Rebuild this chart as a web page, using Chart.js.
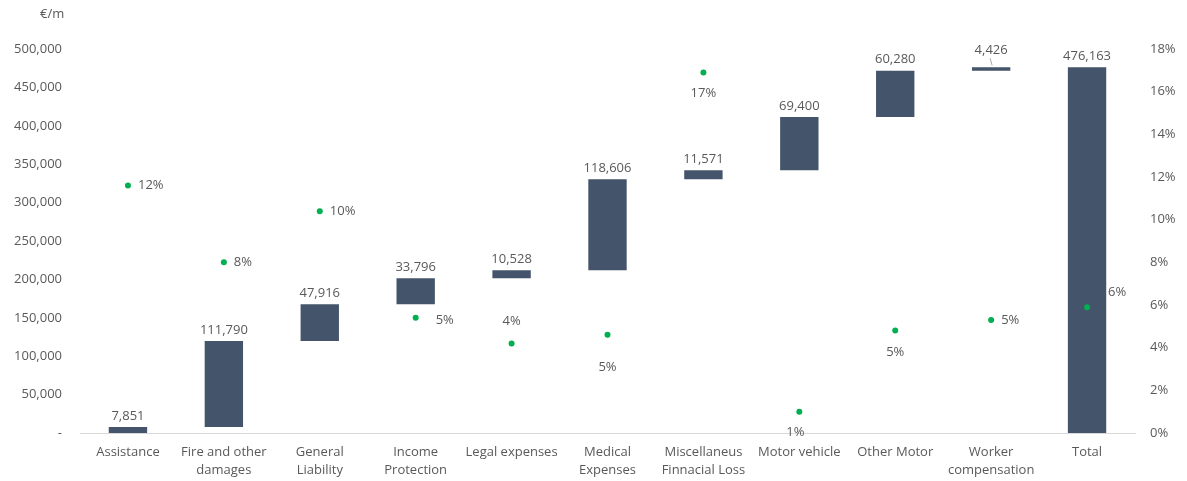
<!DOCTYPE html>
<html>
<head>
<meta charset="utf-8">
<script src="https://cdn.jsdelivr.net/npm/chart.js@4.4.1/dist/chart.umd.min.js"></script>
<style>
  html, body { margin: 0; padding: 0; background: #fff; }
  #wrap { width: 1187px; height: 481px; }
</style>
</head>
<body>
<div id="wrap"><canvas id="chart"></canvas></div>
<script>
const categories = ['Assistance', ['Fire and other', 'damages'], ['General', 'Liability'], ['Income', 'Protection'],
    'Legal expenses', ['Medical', 'Expenses'], ['Miscellaneus', 'Finnacial Loss'], 'Motor vehicle', 'Other Motor',
    ['Worker', 'compensation'], 'Total'];
const increments = [7851, 111790, 47916, 33796, 10528, 118606, 11571, 69400, 60280, 4426];
const totalValue = 476163;
const rates = [11.6, 8.0, 10.4, 5.4, 4.2, 4.6, 16.9, 1.0, 4.8, 5.3, 5.9];

// where each % label sits relative to its dot
const rateLabelPos = [
    { dx: 10, dy: 0, align: 'left' },
    { dx: 10, dy: 0, align: 'left' },
    { dx: 10, dy: 0, align: 'left' },
    { dx: 20, dy: 2, align: 'left' },
    { dx: 0, dy: -22, align: 'center' },
    { dx: 0, dy: 32, align: 'center' },
    { dx: 0, dy: 21, align: 'center' },
    { dx: -4, dy: 21, align: 'center' },
    { dx: 0, dy: 22, align: 'center' },
    { dx: 10, dy: 0, align: 'left' },
    { dx: 21, dy: -15, align: 'left' }
];

const TEXT = '#595959';
const FONT = "'Open Sans', sans-serif";
const SIZE = 13;

// floating bars for the waterfall
let running = 0;
const barData = increments.map(v => {
    const seg = [running, running + v];
    running += v;
    return seg;
});
barData.push([0, totalValue]);
const barLabels = increments.concat([totalValue]);

const fmt = n => n.toLocaleString('en-US');

const labelPlugin = {
    id: 'labels',
    afterDatasetsDraw(chart) {
        const ctx = chart.ctx;
        ctx.save();
        ctx.font = SIZE + 'px ' + FONT;
        ctx.fillStyle = TEXT;
        ctx.textBaseline = 'middle';

        // bar value labels
        const bars = chart.getDatasetMeta(0).data;
        bars.forEach((bar, i) => {
            const top = Math.min(bar.y, bar.base);
            let lift = 11;
            if (i === 9) {
                lift = 17;
                ctx.strokeStyle = '#a6a6a6';
                ctx.lineWidth = 1;
                ctx.beginPath();
                ctx.moveTo(bar.x - 1, top - 9);
                ctx.lineTo(bar.x + 1, top - 2);
                ctx.stroke();
            }
            ctx.textAlign = 'center';
            ctx.fillText(fmt(barLabels[i]), bar.x, top - lift);
        });

        // rate labels
        const pts = chart.getDatasetMeta(1).data;
        pts.forEach((p, i) => {
            const pos = rateLabelPos[i];
            ctx.textAlign = pos.align;
            ctx.fillText(Math.round(rates[i]) + '%', p.x + pos.dx, p.y + pos.dy);
        });

        // unit
        ctx.textAlign = 'left';
        ctx.fillText('€/m', 40, 14);
        ctx.restore();
    }
};

new Chart(document.getElementById('chart'), {
    type: 'bar',
    data: {
        labels: categories,
        datasets: [
            {
                type: 'bar',
                data: barData,
                backgroundColor: '#44546A',
                categoryPercentage: 1,
                barPercentage: 0.4,
                yAxisID: 'y',
                order: 2
            },
            {
                type: 'line',
                data: rates,
                showLine: false,
                pointRadius: 3,
                pointBackgroundColor: '#00B050',
                pointBorderWidth: 0,
                yAxisID: 'y1',
                order: 1
            }
        ]
    },
    options: {
        responsive: true,
        maintainAspectRatio: false,
        animation: false,
        layout: { padding: { top: 49, left: 0, right: 0, bottom: 0 } },
        plugins: { legend: { display: false }, tooltip: { enabled: false } },
        scales: {
            x: {
                grid: { display: false },
                border: { display: true, color: '#d9d9d9' },
                ticks: {
                    color: TEXT,
                    font: { family: FONT, size: SIZE, lineHeight: 1.35 },
                    padding: 3,
                    maxRotation: 0,
                    autoSkip: false
                },
                afterFit(s) { s.height = 48; }
            },
            y: {
                position: 'left',
                min: 0,
                max: 500000,
                grid: { display: false, drawTicks: false },
                border: { display: false },
                ticks: {
                    stepSize: 50000,
                    color: TEXT,
                    font: { family: FONT, size: SIZE },
                    padding: 18,
                    callback: v => v === 0 ? '-' : fmt(v)
                },
                afterFit(s) { s.width = 80; }
            },
            y1: {
                position: 'right',
                min: 0,
                max: 18,
                grid: { display: false, drawTicks: false },
                border: { display: false },
                ticks: {
                    stepSize: 2,
                    color: TEXT,
                    font: { family: FONT, size: SIZE },
                    padding: 15,
                    callback: v => v + '%'
                },
                afterFit(s) { s.width = 52; }
            }
        }
    },
    plugins: [labelPlugin]
});
</script>
</body>
</html>
